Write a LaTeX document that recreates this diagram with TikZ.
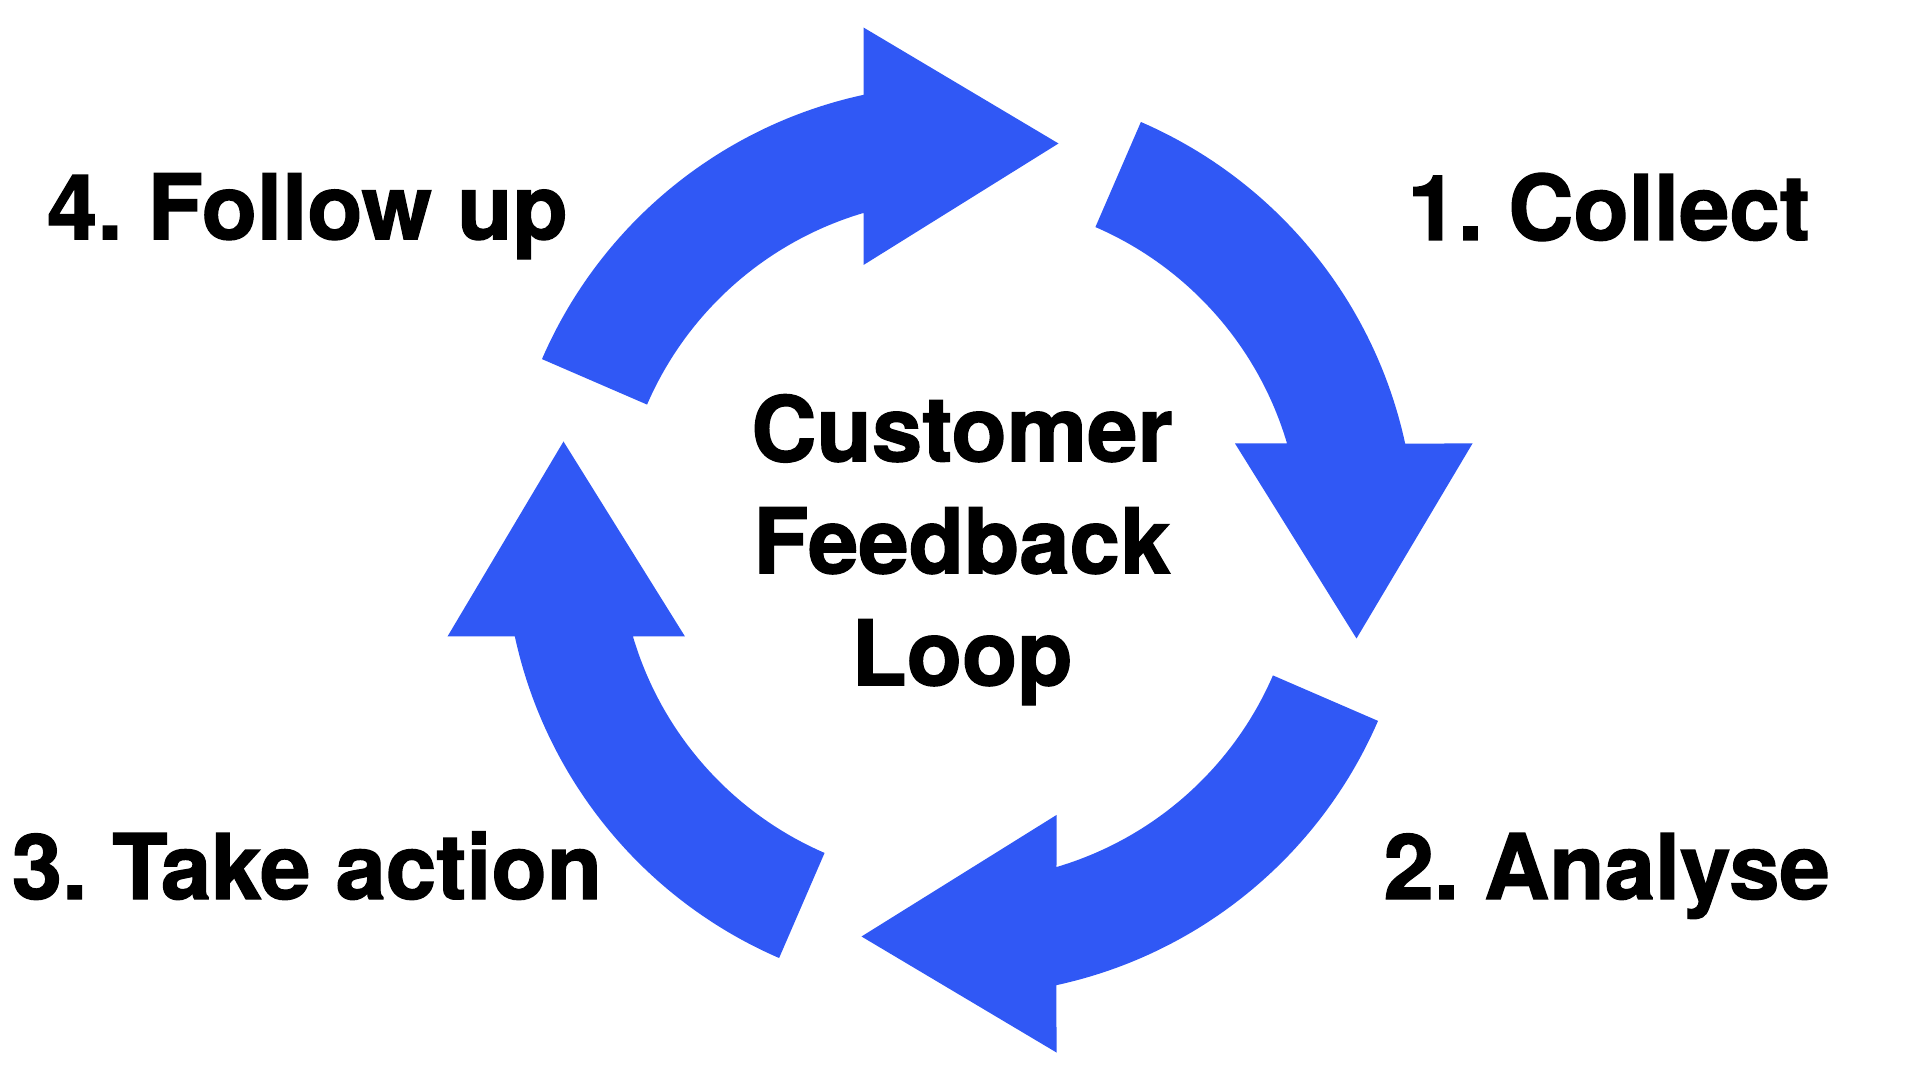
\documentclass[tikz,border=0pt]{standalone}
\usepackage{fontspec}
\newfontfamily\stagefont{texgyreheros-bold}[Extension=.otf,FakeBold=1.4]
\definecolor{loopblue}{RGB}{48,88,245}
\frenchspacing

\begin{document}
\begin{tikzpicture}[x=0.5pt,y=0.5pt,
    stage label/.style={font=\stagefont\fontsize{45.25}{56}\selectfont,inner sep=0pt,anchor=base},
    loop arrow/.pic={
      \fill[loopblue] (66.6:455.5) arc[start angle=66.6,end angle=12.23,radius=455.5]
        -- (512.5,96.5) -- (396.5,-98.5) -- (275,96.5) -- (16.44:341)
        arc[start angle=16.44,end angle=66.6,radius=341] -- cycle;
    }]

    \useasboundingbox (-960,-540) rectangle (960,540);

    % the four arrows of the loop, clockwise
    \pic (collectArrow) at (0,0) {loop arrow};
    \pic[rotate=-90] (analyseArrow) at (0,0) {loop arrow};
    \pic[rotate=-180] (actionArrow) at (0,0) {loop arrow};
    \pic[rotate=-270] (followArrow) at (0,0) {loop arrow};

    \node[stage label] (collect) at (648.8,300) {1. Collect};
    \node[stage label] (analyse) at (646.7,-359) {2. Analyse};
    \node[stage label] (action) at (-653,-359) {3. Take action};
    \node[stage label] (followup) at (-652.5,300.7) {4. Follow up};

    \node[stage label,align=center,anchor=center] (title) at (2,-9.7) {Customer\\Feedback\\Loop};

\end{tikzpicture}
\end{document}
